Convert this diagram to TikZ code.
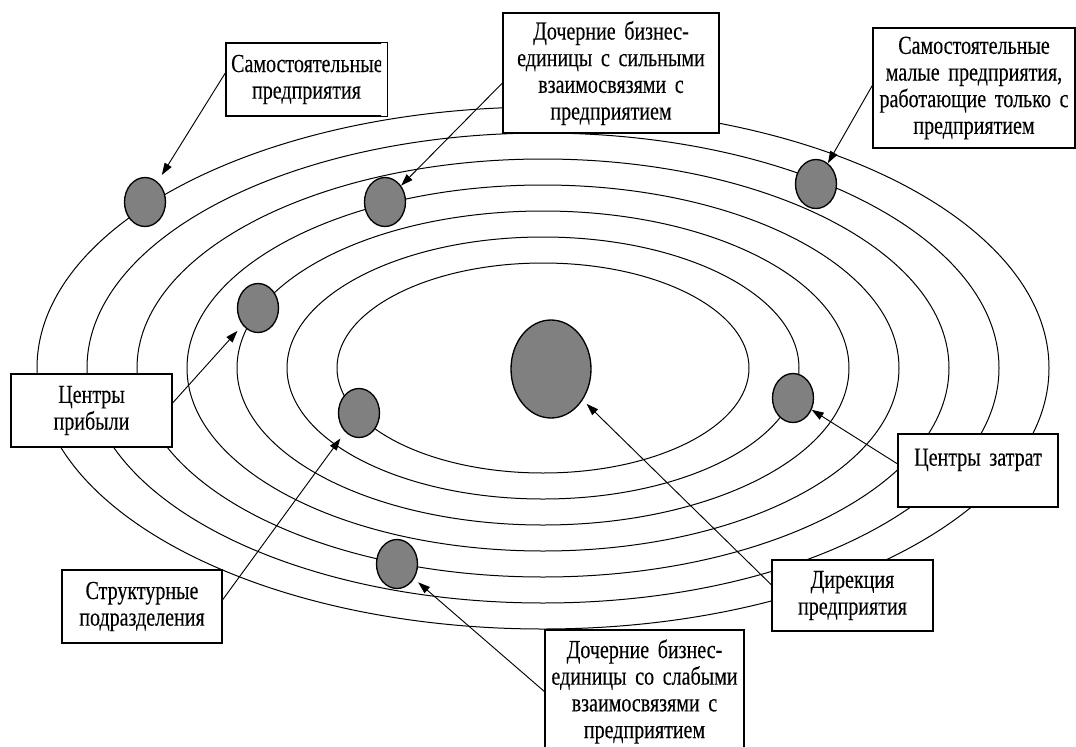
\documentclass[tikz,border=0pt]{standalone}
\usepackage{fontspec}
\setmainfont{Liberation Serif}[FakeStretch=0.77,FakeBold=0.2]
\usetikzlibrary{arrows.meta,shapes.geometric}

\begin{document}
\begin{tikzpicture}[x=0.75pt,y=-0.75pt,
  orbit/.style={draw=black,line width=0.75pt},
  planet/.style={ellipse,draw=black,fill=black!50,line width=1pt,inner sep=0pt,
    minimum width=30.75pt,minimum height=36.75pt},
  box/.style={rectangle,draw=black,fill=white,line width=0.9pt,inner sep=0pt,
    inner xsep=3.75pt,align=center,font=\fontsize{19.5pt}{20pt}\selectfont},
  arr/.style={-{Triangle[length=9pt,width=6pt]},line width=0.7pt}]

\clip (0,0) rectangle (1076,747);
\fill[white] (0,0) rectangle (1076,747);

% concentric orbits
\foreach \i in {0,...,6}
  \draw[orbit] (543,368) ellipse [x radius={206+50*\i}, y radius={105+26*\i}];

% planets
\node[planet,minimum width=60pt,minimum height=73.5pt] (core) at (551,369) {};
\node[planet] (p1) at (145,202) {};
\node[planet] (p2) at (385,202) {};
\node[planet] (p3) at (258,308) {};
\node[planet] (p4) at (359,413) {};
\node[planet] (p5) at (397,564) {};
\node[planet] (p6) at (816,184) {};
\node[planet] (p7) at (793,398) {};

% labels (one \mbox per printed line, so no line is rebroken)
\begin{scope}
  % text of this box is cut at the inner right margin
  \clip (225,42) rectangle (381,117);
  \node[box,minimum width=120.75pt,minimum height=54.75pt,text width=113pt] (sa) at (306.5,79.5)
    {\mbox{Самостоятельные}\\\mbox{предприятия}};
\end{scope}
\draw[line width=0.9pt] (sa.south west) rectangle (sa.north east);
\node[box,minimum width=162pt,minimum height=90pt,text width=154pt] (ds) at (611,73)
  {\mbox{Дочерние бизнес-}\\\mbox{единицы с сильными}\\\mbox{взаимосвязями с}\\\mbox{предприятием}};
\node[box,minimum width=151.5pt,minimum height=90pt,text width=144pt] (sm) at (974,88)
  {\mbox{Самостоятельные}\\\mbox{малые предприятия,}\\\mbox{работающие только с}\\\mbox{предприятием}};
\node[box,minimum width=120.75pt,minimum height=54.75pt,text width=113pt] (cp) at (91.5,410.5)
  {\mbox{Центры}\\\mbox{прибыли}};
\node[box,minimum width=120pt,minimum height=54.75pt,text width=112pt] (su) at (142,606.5)
  {\mbox{Структурные}\\\mbox{подразделения}};
\node[box,minimum width=120pt,minimum height=54.75pt,text width=112pt] (cz) at (978,470.5)
  {\mbox{Центры затрат}\\\mbox{}};
\node[box,minimum width=120.75pt,minimum height=53.25pt,text width=113pt] (dp) at (852.5,595.5)
  {\mbox{Дирекция}\\\mbox{предприятия}};
\node[box,minimum width=149.25pt,minimum height=92.25pt,text width=141pt] (dw) at (644.5,691.5)
  {\mbox{Дочерние бизнес-}\\\mbox{единицы со слабыми}\\\mbox{взаимосвязями с}\\\mbox{предприятием}};

% connectors
\draw[arr,shorten >=6pt] ([yshift=5pt]sa.west) -- (p1);
\draw[arr] ([yshift=-7.5pt]ds.west) -- (p2);
\draw[arr] ([yshift=2pt]sm.west) -- (p6);
\draw[arr,shorten >=5.7pt] ([yshift=5.6pt]cp.east) -- (p3);
\draw[arr,shorten >=6pt] ([yshift=5pt]su.east) -- (p4);
\draw[arr,shorten >=4pt] (dw.west) -- (p5);
\draw[arr,shorten >=4pt] ([yshift=8pt]dp.west) -- (core);
\draw[arr] ([yshift=5pt]cz.west) -- (p7);
\end{tikzpicture}
\end{document}
